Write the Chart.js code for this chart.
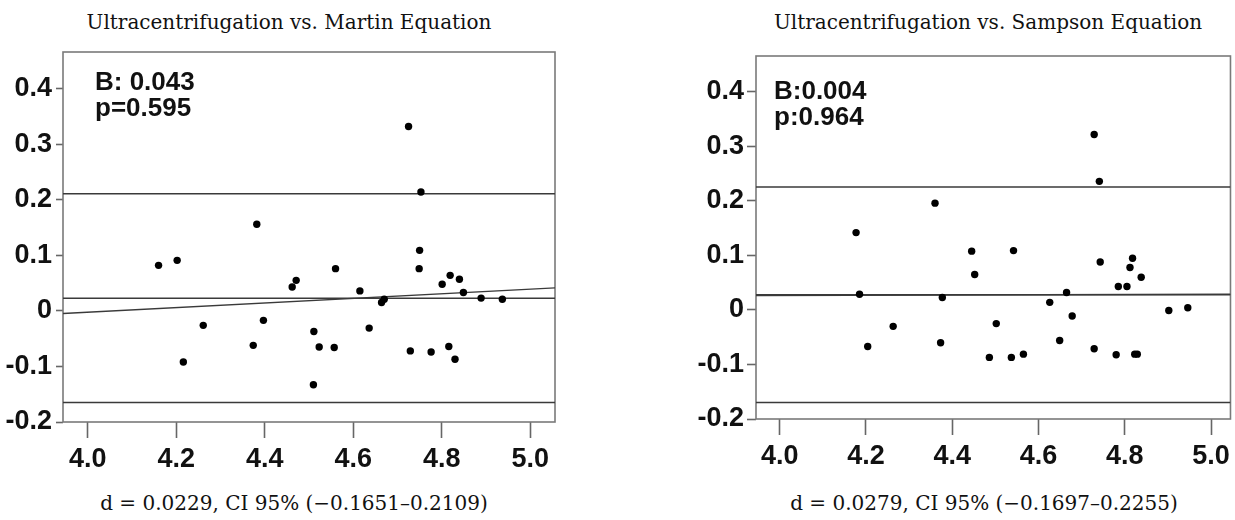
<!DOCTYPE html>
<html>
<head>
<meta charset="utf-8">
<script src="https://cdn.jsdelivr.net/npm/chart.js@4.4.0/dist/chart.umd.min.js"></script>
<style>
  body { margin: 0; background: #fff; }
  #page { position: relative; width: 1235px; height: 520px; overflow: hidden; }
  .box { position: absolute; top: 0; height: 520px; }
  .cap { position: absolute; width: 560px; font-family: "DejaVu Serif", serif; font-size: 20px;
         line-height: 22px; color: #111; text-align: center; white-space: nowrap; }
</style>
</head>
<body>
<div id="page">
  <div class="cap" style="left:9px;top:11px">Ultracentrifugation vs. Martin Equation</div>
  <div class="cap" style="left:708px;top:11px">Ultracentrifugation vs. Sampson Equation</div>
  <div class="cap" style="left:14px;top:492px">d = 0.0229, CI 95% (−0.1651–0.2109)</div>
  <div class="cap" style="left:704px;top:492px">d = 0.0279, CI 95% (−0.1697–0.2255)</div>
  <div class="box" style="left:0;width:617px"><canvas id="martin" width="617" height="520"></canvas></div>
  <div class="box" style="left:617px;width:618px"><canvas id="sampson" width="618" height="520"></canvas></div>
</div>
<script>
// mean of both methods (x) vs difference (y)
const martinX = [4.160, 4.202, 4.216, 4.261, 4.374, 4.382, 4.397, 4.462, 4.471, 4.510, 4.511,
                 4.523, 4.557, 4.560, 4.615, 4.636, 4.664, 4.670, 4.725, 4.729, 4.749, 4.750,
                 4.753, 4.776, 4.801, 4.816, 4.819, 4.830, 4.840, 4.849, 4.889, 4.937];
const martinY = [0.082, 0.091, -0.092, -0.026, -0.062, 0.156, -0.017, 0.043, 0.055, -0.133, -0.037,
                 -0.065, -0.066, 0.076, 0.036, -0.031, 0.015, 0.021, 0.332, -0.072, 0.076, 0.109,
                 0.214, -0.074, 0.048, -0.064, 0.064, -0.087, 0.057, 0.033, 0.023, 0.021];

const sampsonX = [4.177, 4.185, 4.204, 4.263, 4.360, 4.373, 4.377, 4.445, 4.452, 4.486, 4.502,
                  4.537, 4.542, 4.565, 4.626, 4.649, 4.665, 4.678, 4.729, 4.729, 4.741, 4.743,
                  4.780, 4.785, 4.805, 4.812, 4.818, 4.823, 4.829, 4.838, 4.902, 4.946];
const sampsonY = [0.142, 0.029, -0.067, -0.030, 0.196, -0.060, 0.023, 0.108, 0.065, -0.087, -0.025,
                  -0.087, 0.109, -0.081, 0.014, -0.056, 0.032, -0.011, 0.322, -0.071, 0.236, 0.088,
                  -0.082, 0.043, 0.043, 0.078, 0.095, -0.081, -0.081, 0.060, -0.001, 0.004];

// bias and limits of agreement: [lower, mean, upper]
const martinLimits = [-0.1651, 0.0229, 0.2109];
const sampsonLimits = [-0.1697, 0.0279, 0.2255];

// regression of difference on mean, y at the two x bounds
const martinFitY = [-0.0047, 0.0414];
const sampsonFitY = [0.0265, 0.0290];

const martinXRange = [3.944, 5.056];
const sampsonXRange = [3.945, 5.045];
const yRange = [-0.2, 0.466];

const xTicks = [4.0, 4.2, 4.4, 4.6, 4.8, 5.0];
const xTickLabels = ['4.0', '4.2', '4.4', '4.6', '4.8', '5.0'];
const yTicks = [-0.2, -0.1, 0, 0.1, 0.2, 0.3, 0.4];
const yTickLabels = ['-0.2', '-0.1', '0', '0.1', '0.2', '0.3', '0.4'];

const martinNote = ['B: 0.043', 'p=0.595'];
const sampsonNote = ['B:0.004', 'p:0.964'];

const tickFont = { family: '"Liberation Sans", Arial, sans-serif', size: 27, weight: 'bold' };

const framePlugin = {
  id: 'frame',
  beforeDatasetsDraw(chart) {
    const { ctx, chartArea: a } = chart;
    ctx.save();
    ctx.strokeStyle = '#7a7a7a';
    ctx.lineWidth = 1.6;
    ctx.strokeRect(a.left, a.top, a.right - a.left, a.bottom - a.top);
    ctx.restore();
  }
};

const notePlugin = {
  id: 'note',
  afterDraw(chart, args, opts) {
    const { ctx, chartArea: a } = chart;
    ctx.save();
    ctx.fillStyle = '#111';
    ctx.font = 'bold 26px "Liberation Sans", Arial, sans-serif';
    ctx.textBaseline = 'alphabetic';
    opts.lines.forEach((t, i) => ctx.fillText(t, a.left + opts.dx, a.top + opts.dy + i * 26));
    ctx.restore();
  }
};

function hline(xr, y) {
  return {
    data: [{ x: xr[0], y: y }, { x: xr[1], y: y }],
    showLine: true, pointRadius: 0, borderColor: '#3a3a3a', borderWidth: 1.5
  };
}

function makeChart(id, xs, ys, limits, fitY, xr, note, lay) {
  const points = xs.map((x, i) => ({ x: x, y: ys[i] }));
  new Chart(document.getElementById(id), {
    type: 'scatter',
    data: {
      datasets: [
        { data: points, pointRadius: 3.7, pointBackgroundColor: '#000', pointBorderWidth: 0 },
        hline(xr, limits[1]),
        hline(xr, limits[0]),
        hline(xr, limits[2]),
        {
          data: [{ x: xr[0], y: fitY[0] }, { x: xr[1], y: fitY[1] }],
          showLine: true, pointRadius: 0, borderColor: '#3a3a3a', borderWidth: 1.4
        }
      ]
    },
    options: {
      responsive: false,
      animation: false,
      layout: { padding: lay.padding },
      plugins: {
        legend: { display: false },
        tooltip: { enabled: false },
        note: { lines: note, dx: lay.noteX, dy: lay.noteY }
      },
      scales: {
        x: {
          type: 'linear', min: xr[0], max: xr[1],
          afterBuildTicks: s => { s.ticks = xTicks.map(v => ({ value: v })); },
          afterFit: s => { s.height = 60; },
          border: { display: false },
          grid: { drawOnChartArea: false, tickLength: 16, tickColor: '#666', tickWidth: 1.6 },
          ticks: { autoSkip: false, maxRotation: 0, padding: 5, color: '#111', font: tickFont,
                   callback: (v, i) => xTickLabels[i] }
        },
        y: {
          type: 'linear', min: yRange[0], max: yRange[1],
          afterBuildTicks: s => { s.ticks = yTicks.map(v => ({ value: v })); },
          afterFit: s => { s.width = 63; },
          border: { display: false },
          grid: { drawOnChartArea: false, tickLength: lay.yTick, tickColor: '#666', tickWidth: 1.6 },
          ticks: { autoSkip: false, padding: lay.yPad, color: '#111', font: tickFont,
                   callback: (v, i) => yTickLabels[i] }
        }
      }
    },
    plugins: [framePlugin, notePlugin]
  });
}

makeChart('martin', martinX, martinY, martinLimits, martinFitY, martinXRange, martinNote,
  { padding: { left: 0, top: 52, right: 62, bottom: 38 }, yTick: 7, yPad: 4, noteX: 32, noteY: 38 });
makeChart('sampson', sampsonX, sampsonY, sampsonLimits, sampsonFitY, sampsonXRange, sampsonNote,
  { padding: { left: 76, top: 56, right: 2, bottom: 41 }, yTick: 9, yPad: 3, noteX: 18, noteY: 43 });
</script>
</body>
</html>
